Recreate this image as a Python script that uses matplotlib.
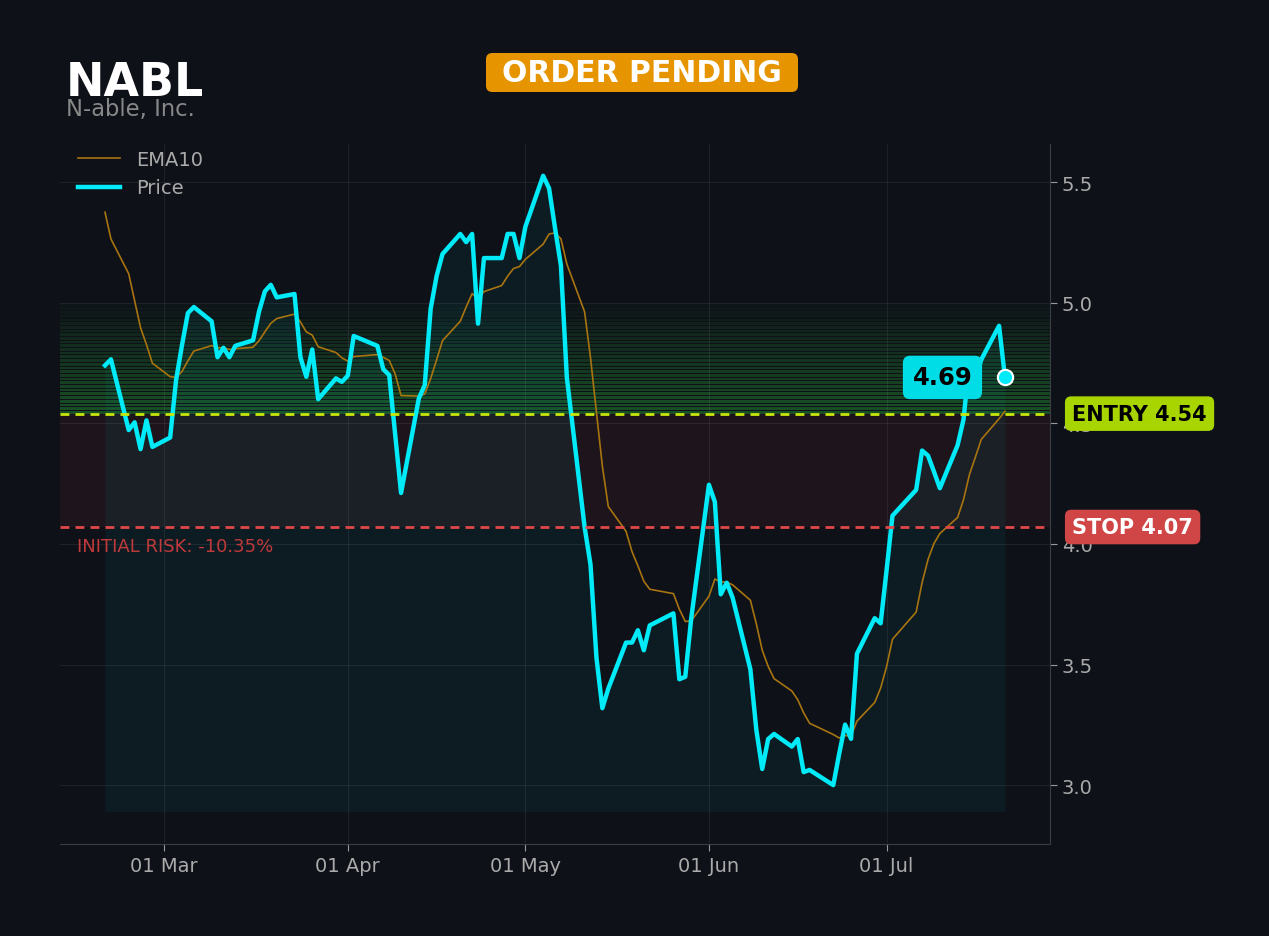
import matplotlib
matplotlib.use('Agg')
import matplotlib.pyplot as plt
import matplotlib.dates as mdates
import matplotlib.transforms as mtransforms
from matplotlib.patches import FancyBboxPatch
import pandas as pd

# values
ticker = 'NABL'
company = 'N-able, Inc.'
status = 'ORDER PENDING'
entry = 4.54
stop = 4.07
target = 5.0
ema_seed = 5.375
fill_floor = 2.89

holidays = ['2026-04-03', '2026-05-25', '2026-06-19', '2026-07-03']
dates = pd.bdate_range('2026-02-19', '2026-07-21', freq='C', holidays=holidays)

price = [
    # Feb
    4.74, 4.765, 4.472, 4.504, 4.393, 4.512, 4.402,
    # Mar
    4.441, 4.679, 4.824, 4.957, 4.982, 4.923, 4.774, 4.813, 4.774, 4.821,
    4.844, 4.962, 5.047, 5.074, 5.022, 5.036, 4.774, 4.693, 4.806, 4.60,
    4.686, 4.672,
    # Apr
    4.697, 4.862, 4.821, 4.724, 4.70, 4.455, 4.211, 4.603, 4.658, 4.975,
    5.11, 5.202, 5.285, 5.251, 5.285, 4.913, 5.185, 5.185, 5.285, 5.285,
    5.185,
    # May
    5.315, 5.526, 5.474, 5.31, 5.154, 4.69, 4.07, 3.914, 3.529, 3.319,
    3.40, 3.591, 3.591, 3.642, 3.559, 3.662, 3.712, 3.439, 3.449, 3.69,
    # Jun
    4.245, 4.174, 3.791, 3.839, 3.777, 3.48, 3.23, 3.067, 3.191, 3.212,
    3.16, 3.191, 3.054, 3.063, 3.0, 3.13, 3.251, 3.192, 3.545, 3.692,
    3.671,
    # Jul
    3.89, 4.117, 4.224, 4.387, 4.366, 4.30, 4.231, 4.409, 4.516, 4.757,
    4.683, 4.764, 4.904, 4.69,
]

bg = '#0e1118'
cyan = '#00eaf8'

s = pd.Series(price, index=dates)
seeded = s.copy()
seeded.iloc[0] = ema_seed
ema = seeded.ewm(span=10, adjust=False).mean()
risk_pct = (stop - entry) / entry * 100

fig = plt.figure(figsize=(12.69, 9.37), dpi=100, facecolor=bg)
ax = fig.add_axes([0.0473, 0.0982, 0.7801, 0.7471])
ax.set_facecolor(bg)

# zones: striped green fade above entry, red risk band below
n = 30
h = (target - entry) / n
for i in range(n):
    ax.axhspan(entry + i * h, entry + (i + 0.72) * h, color='#2ecc40',
               alpha=0.32 * (1 - i / n) + 0.02, lw=0, zorder=1)
ax.axhspan(stop, entry, color='#d04545', alpha=0.08, lw=0, zorder=1)

ax.fill_between(dates, price, fill_floor, color=cyan, alpha=0.05, lw=0, zorder=2)

ax.plot(dates, ema, color='#a87410', lw=1.2, label='EMA10', zorder=3)
ax.plot(dates, price, color=cyan, lw=3.2, label='Price', zorder=4)
ax.plot(dates[-1], price[-1], 'o', ms=11, color=cyan, mec='white', mew=1.5, zorder=6)

ax.axhline(entry, color='#c8e60a', lw=2, ls=(0, (3.2, 2.2)), zorder=5)
ax.axhline(stop, color='#e04848', lw=2, ls=(0, (3.2, 2.2)), zorder=5)

trans = mtransforms.blended_transform_factory(ax.transAxes, ax.transData)
ax.text(1.0225, entry, f'ENTRY {entry:.2f}', transform=trans, ha='left', va='center',
        fontsize=15, fontweight='bold', color='black', zorder=10, clip_on=False,
        bbox=dict(boxstyle='round,pad=0.35,rounding_size=0.3', fc='#a8d400', ec='none'))
ax.text(1.0225, stop, f'STOP {stop:.2f}', transform=trans, ha='left', va='center',
        fontsize=15, fontweight='bold', color='white', zorder=10, clip_on=False,
        bbox=dict(boxstyle='round,pad=0.35,rounding_size=0.3', fc='#d04545', ec='none'))
ax.text(0.017, stop - 0.04, f'INITIAL RISK: {risk_pct:.2f}%', transform=trans,
        ha='left', va='top', fontsize=13, color='#c0393b', zorder=10)

ax.annotate(f'{price[-1]:.2f}', xy=(dates[-1], price[-1]), xytext=(-45, 0),
            textcoords='offset points', ha='center', va='center', fontsize=17.5,
            fontweight='bold', color='black', zorder=10,
            bbox=dict(boxstyle='round,pad=0.4,rounding_size=0.3', fc='#00dde6', ec='none'))

ax.set_xlim(dates[0] - pd.Timedelta(days=7.6), dates[-1] + pd.Timedelta(days=7.6))
ax.set_ylim(2.756, 5.658)
ax.set_yticks([3.0, 3.5, 4.0, 4.5, 5.0, 5.5])
ax.yaxis.tick_right()
ax.xaxis.set_major_locator(mdates.MonthLocator())
ax.xaxis.set_major_formatter(mdates.DateFormatter('%d %b'))
ax.tick_params(colors='#999999', labelsize=14, length=5)
ax.tick_params(axis='both', labelcolor='#aaaaaa')
ax.grid(True, color='white', alpha=0.07, lw=0.8)
for side in ['left', 'top']:
    ax.spines[side].set_visible(False)
for side in ['bottom', 'right']:
    ax.spines[side].set_color('#3a3d44')

ax.legend(loc='upper left', frameon=False, fontsize=14, labelcolor='#aaaaaa',
          handlelength=2.2, borderaxespad=0.0, bbox_to_anchor=(0.01, 1.003))

fig.text(0.052, 0.8975, ticker, fontsize=33, fontweight='bold', color='white')
fig.text(0.052, 0.876, company, fontsize=16.3, color='#888888')

# status badge
fig.patches.append(FancyBboxPatch((486 / 1269, 1 - 93 / 937), 312 / 1269, 39 / 937,
                                  boxstyle='round,pad=0,rounding_size=0.005',
                                  transform=fig.transFigure, fc='#e69500', ec='none',
                                  mutation_aspect=1269 / 937))
fig.text(642 / 1269, 1 - 74 / 937, status, fontsize=21.5, fontweight='bold',
         color='white', ha='center', va='center')

fig.savefig('out.png', dpi=100, facecolor=bg)
